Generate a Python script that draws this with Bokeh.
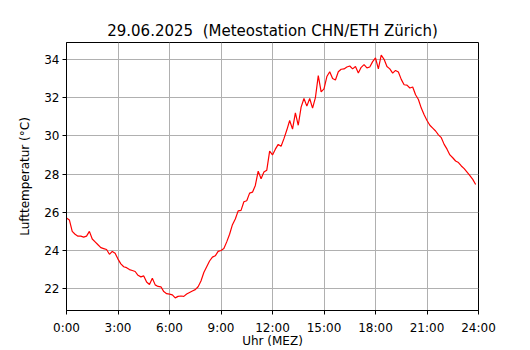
from bokeh.plotting import figure
from bokeh.models import FixedTicker, Range1d, ColumnDataSource
from bokeh.embed import file_html
from bokeh.resources import INLINE

title_text = "29.06.2025\u00a0 (Meteostation CHN/ETH Zürich)"
x_label = "Uhr (MEZ)"
y_label = "Lufttemperatur (°C)"

# sampling times in minutes after midnight (10-minute values)
minutes = list(range(0, 1440, 10))

temperature = [
    25.70, 25.60, 25.00, 24.85, 24.75, 24.75, 24.70, 24.75, 25.00, 24.60,
    24.45, 24.30, 24.15, 24.10, 24.05, 23.80, 23.95, 23.85, 23.55, 23.30,
    23.15, 23.10, 23.00, 22.95, 22.90, 22.70, 22.62, 22.67, 22.35, 22.22,
    22.55, 22.20, 22.12, 22.10, 21.85, 21.74, 21.72, 21.68, 21.52, 21.60,
    21.62, 21.60, 21.72, 21.80, 21.88, 21.95, 22.10, 22.40, 22.85, 23.15,
    23.45, 23.65, 23.72, 23.95, 24.00, 24.10, 24.45, 24.85, 25.35, 25.65,
    26.07, 26.10, 26.55, 26.60, 27.00, 27.05, 27.40, 28.15, 27.75, 28.10,
    28.20, 29.20, 29.00, 29.30, 29.55, 29.45, 29.85, 30.30, 30.80, 30.35,
    31.20, 30.55, 31.50, 31.95, 31.55, 31.95, 31.45, 32.00, 33.15, 32.30,
    32.45, 33.10, 33.35, 33.00, 32.92, 33.35, 33.48, 33.50, 33.60, 33.65,
    33.50, 33.62, 33.28, 33.58, 33.72, 33.55, 33.60, 33.88, 34.07, 33.50,
    34.22, 34.00, 33.62, 33.50, 33.28, 33.42, 33.34, 32.95, 32.67, 32.65,
    32.50, 32.55, 32.15, 31.90, 31.45, 31.10, 30.80, 30.55, 30.40, 30.25,
    30.05, 29.90, 29.55, 29.30, 29.00, 28.85, 28.68, 28.60, 28.42, 28.28,
    28.10, 27.92, 27.72, 27.45,
]

x_ticks = [0, 3, 6, 9, 12, 15, 18, 21, 24]
x_tick_labels = ["0:00", "3:00", "6:00", "9:00", "12:00", "15:00", "18:00", "21:00", "24:00"]
y_ticks = [22, 24, 26, 28, 30, 32, 34]

hours = [m / 60.0 for m in minutes]
source = ColumnDataSource(data=dict(hours=hours, temp=temperature))

FONT = "DejaVu Sans"

p = figure(
    width=530, height=350,
    output_backend="svg", toolbar_location=None,
    x_range=Range1d(0, 24), y_range=Range1d(20.86, 34.88),
    min_border_left=66, min_border_right=52,
    min_border_top=42, min_border_bottom=38,
)
p.background_fill_color = "white"
p.border_fill_color = "white"
p.outline_line_color = "black"
p.outline_line_width = 1
p.outline_line_alpha = 1

p.title.text = title_text
p.title.align = "center"
p.title.text_font = FONT
p.title.text_font_size = "15px"
p.title.text_font_style = "normal"
p.title.text_color = "black"
p.title.standoff = 5

p.xaxis.ticker = FixedTicker(ticks=x_ticks)
p.xaxis.major_label_overrides = {t: lab for t, lab in zip(x_ticks, x_tick_labels)}
p.yaxis.ticker = FixedTicker(ticks=y_ticks)
p.xaxis.axis_label = x_label
p.yaxis.axis_label = y_label

for ax in (p.xaxis, p.yaxis):
    ax.axis_line_color = "black"
    ax.axis_line_width = 1
    ax.major_tick_line_color = "black"
    ax.major_tick_out = 4
    ax.major_tick_in = 0
    ax.minor_tick_line_color = None
    ax.major_label_text_font = FONT
    ax.major_label_text_font_size = "12px"
    ax.major_label_text_color = "black"
    ax.major_label_text_line_height = 1.0
    ax.axis_label_text_font = FONT
    ax.axis_label_text_font_size = "12px"
    ax.axis_label_text_font_style = "normal"
    ax.axis_label_text_color = "black"
    ax.axis_label_text_line_height = 1.0

p.xaxis.major_label_standoff = 6
p.xaxis.axis_label_standoff = -4
p.yaxis.major_label_standoff = 3
p.yaxis.axis_label_standoff = 9

for g in (p.xgrid, p.ygrid):
    g.grid_line_color = "#b0b0b0"
    g.grid_line_width = 1
    g.grid_line_alpha = 1

p.line("hours", "temp", source=source, line_color="red", line_width=1.2)

open("out.html", "w").write(file_html(p, INLINE))
